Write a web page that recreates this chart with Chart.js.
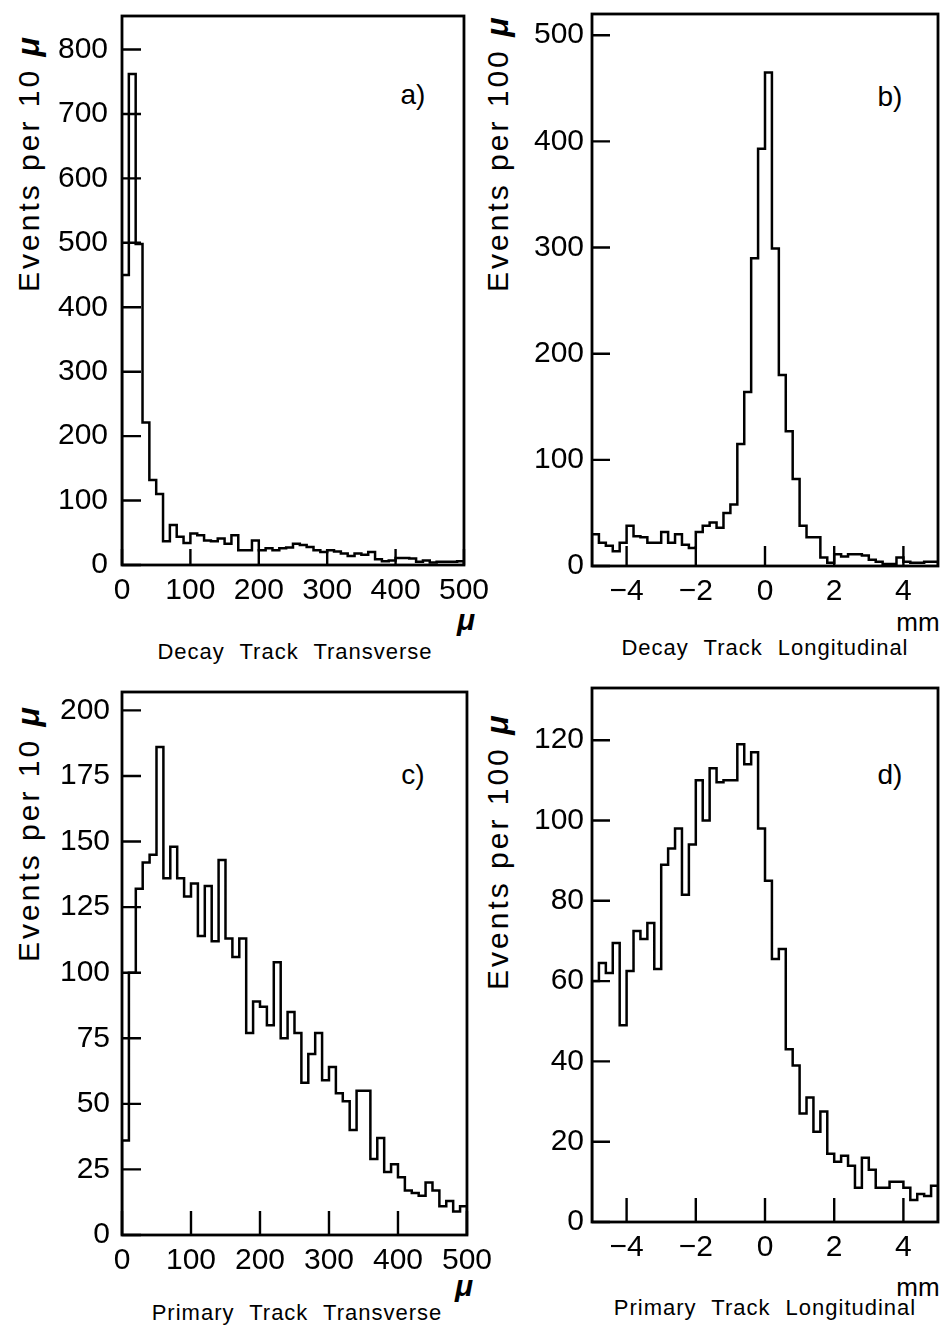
<!DOCTYPE html>
<html>
<head>
<meta charset="utf-8">
<script src="https://cdn.jsdelivr.net/npm/chart.js@4.4.0/dist/chart.umd.min.js"></script>
<style>
  html, body { margin: 0; padding: 0; background: #fff; }
  body { width: 943px; height: 1330px; position: relative; overflow: hidden;
         font-family: "Liberation Sans", Arial, sans-serif; color: #000; }
  canvas { position: absolute; }
  .t { position: absolute; white-space: nowrap; transform: translate(-50%, -50%); }
  .yt { position: absolute; white-space: nowrap; transform-origin: 0 0; transform: rotate(-90deg);
        font-size: 30px; line-height: 34px; letter-spacing: 3px; }
  .xt { font-size: 22px; letter-spacing: 1px; word-spacing: 8px; }
  .mu { font-weight: bold; font-style: italic; font-size: 32px; }
  .unit { font-size: 30px; font-weight: bold; font-style: italic; }
  .mm { font-size: 26px; }
  .lab { font-size: 28px; }
</style>
</head>
<body>

<div class="yt" style="left:11px; top:292px;">Events per 10 <span class="mu">μ</span></div>
<div class="yt" style="left:480px; top:292px;">Events per 100 <span class="mu">μ</span></div>
<div class="yt" style="left:11px; top:962px;">Events per 10 <span class="mu">μ</span></div>
<div class="yt" style="left:480px; top:990px;">Events per 100 <span class="mu">μ</span></div>

<div class="t xt" style="left:295px; top:652px;">Decay Track Transverse</div>
<div class="t unit" style="left:466px; top:620px;">μ</div>
<div class="t mm" style="left:918px; top:622px;">mm</div>
<div class="t xt" style="left:765px; top:648px;">Decay Track Longitudinal</div>
<div class="t xt" style="left:297px; top:1313px;">Primary Track Transverse</div>
<div class="t unit" style="left:464px; top:1286px;">μ</div>
<div class="t mm" style="left:918px; top:1287px;">mm</div>
<div class="t xt" style="left:765px; top:1308px;">Primary Track Longitudinal</div>

<div class="t lab" style="left:413px; top:95px;">a)</div>
<div class="t lab" style="left:890px; top:97px;">b)</div>
<div class="t lab" style="left:413px; top:775px;">c)</div>
<div class="t lab" style="left:890px; top:775px;">d)</div>

<canvas id="cA"></canvas>
<canvas id="cB"></canvas>
<canvas id="cC"></canvas>
<canvas id="cD"></canvas>

<script>
// bin contents, 50 bins each
// transverse: 10 micron bins from 0 to 500
const decayTransverse = [450, 762, 498, 221, 132, 110, 37, 62, 44, 34,
                         49, 46, 38, 37, 41, 33, 46, 23, 23, 38,
                         23, 26, 23, 26, 27, 33, 31, 28, 23, 20,
                         23, 21, 18, 14, 18, 16, 20, 9, 6, 7,
                         11, 11, 10, 5, 7, 4, 5, 5, 5, 6];
const primaryTransverse = [36, 100, 132, 142, 145, 186, 136, 148, 136, 129,
                           134, 114, 133, 112, 143, 113, 106, 113, 77, 89,
                           87, 80, 104, 75, 85, 77, 58, 69, 77, 59,
                           64, 54, 51, 40, 55, 55, 29, 37, 24, 27,
                           22, 17, 16, 15, 20, 17, 11, 13, 9, 11];
// longitudinal: 0.2 mm bins from -5 to 5
const decayLongitudinal = [30, 22, 19, 14, 22, 38, 28, 27, 22, 22,
                           32, 22, 30, 20, 17, 32, 38, 41, 36, 50,
                           58, 115, 164, 290, 393, 465, 299, 180, 127, 82,
                           38, 27, 27, 8, 3, 11, 9, 11, 11, 10,
                           6, 4, 2, 2, 8, 4, 3, 3, 4, 4];
const primaryLongitudinal = [60, 64.5, 62, 69.5, 49, 62.5, 72.5, 70.5, 74.5, 63,
                             89, 93, 98, 81.5, 94, 110, 100, 113, 109.5, 110,
                             110, 119, 114, 117, 98, 85, 65.5, 68, 43, 39,
                             27, 31, 22.5, 27.5, 17, 15, 16.5, 14, 8.5, 16,
                             13, 8.5, 8.5, 10, 10, 8.5, 5.5, 7, 6.5, 9];

// axis ticks
const transTicks = [0, 100, 200, 300, 400, 500];
const longTicks = [-4, -2, 0, 2, 4];
const yTicksA = [0, 100, 200, 300, 400, 500, 600, 700, 800];
const yTicksB = [0, 100, 200, 300, 400, 500];
const yTicksC = [0, 25, 50, 75, 100, 125, 150, 175, 200];
const yTicksD = [0, 20, 40, 60, 80, 100, 120];

const INK = '#000';
const TICK_FONT = { family: '"Liberation Sans", Arial, sans-serif', size: 30 };
const Y_AXIS_W = 115, X_AXIS_H = 45, PAD_T = 30, PAD_R = 30;

// box frame plus inward tick marks
const framePlugin = {
    id: 'frame',
    afterDatasetsDraw(chart, args, opts) {
        const { ctx, chartArea: a, scales: { x, y } } = chart;
        ctx.save();
        ctx.strokeStyle = INK;
        ctx.lineWidth = opts.lineWidth;
        ctx.beginPath();
        y.ticks.forEach(t => {
            const py = y.getPixelForValue(t.value);
            ctx.moveTo(a.left, py);
            ctx.lineTo(a.left + opts.yTick, py);
        });
        x.ticks.forEach(t => {
            const px = x.getPixelForValue(t.value);
            ctx.moveTo(px, a.bottom);
            ctx.lineTo(px, a.bottom - opts.xTick);
        });
        ctx.stroke();
        ctx.lineWidth = opts.frameWidth;
        ctx.strokeRect(a.left, a.top, a.right - a.left, a.bottom - a.top);
        ctx.restore();
    }
};

// step outline from bin edges
function histPoints(vals, lo, hi) {
    const w = (hi - lo) / vals.length;
    const pts = [{ x: lo, y: 0 }];
    vals.forEach((v, i) => pts.push({ x: lo + i * w, y: v }));
    pts.push({ x: hi, y: vals[vals.length - 1] });
    pts.push({ x: hi, y: 0 });
    return pts;
}

const minusFmt = v => (v < 0 ? '\u2212' + Math.abs(v) : String(v));

function makePanel(canvasId, p) {
    const canvas = document.getElementById(canvasId);
    const w = (p.rect.r - p.rect.l) + Y_AXIS_W + PAD_R;
    const h = (p.rect.b - p.rect.t) + PAD_T + X_AXIS_H;
    canvas.width = w;
    canvas.height = h;
    canvas.style.width = w + 'px';
    canvas.style.height = h + 'px';
    canvas.style.left = (p.rect.l - Y_AXIS_W) + 'px';
    canvas.style.top = (p.rect.t - PAD_T) + 'px';

    return new Chart(canvas.getContext('2d'), {
        type: 'line',
        data: {
            datasets: [{
                data: histPoints(p.values, p.lo, p.hi),
                stepped: 'before',
                borderColor: INK,
                borderWidth: 2.5,
                pointRadius: 0,
                fill: false
            }]
        },
        options: {
            responsive: false,
            animation: false,
            events: [],
            layout: { padding: { top: PAD_T, right: PAD_R, left: 0, bottom: 0 } },
            plugins: {
                legend: { display: false },
                tooltip: { enabled: false },
                frame: { lineWidth: 2.4, frameWidth: 2.8, yTick: p.yTick, xTick: p.xTick }
            },
            scales: {
                x: {
                    type: 'linear',
                    min: p.lo,
                    max: p.hi,
                    grid: { display: false, drawTicks: false },
                    border: { display: false },
                    afterBuildTicks: s => { s.ticks = p.xTicks.map(v => ({ value: v })); },
                    afterFit: s => { s.height = X_AXIS_H; },
                    ticks: { font: TICK_FONT, color: INK, padding: 8, maxRotation: 0, autoSkip: false, callback: minusFmt }
                },
                y: {
                    type: 'linear',
                    min: 0,
                    max: p.yMax,
                    grid: { display: false, drawTicks: false },
                    border: { display: false },
                    afterBuildTicks: s => { s.ticks = p.yTicks.map(v => ({ value: v })); },
                    afterFit: s => { s.width = Y_AXIS_W; },
                    ticks: { font: TICK_FONT, color: INK, padding: p.yPad, autoSkip: false }
                }
            }
        },
        plugins: [framePlugin]
    });
}

makePanel('cA', { values: decayTransverse, lo: 0, hi: 500, xTicks: transTicks, yTicks: yTicksA, yMax: 852,
                  rect: { l: 122, t: 14, r: 467, b: 565 }, yTick: 19, xTick: 16, yPad: 14 });
makePanel('cB', { values: decayLongitudinal, lo: -5, hi: 5, xTicks: longTicks, yTicks: yTicksB, yMax: 520,
                  rect: { l: 592, t: 14, r: 938, b: 566 }, yTick: 18, xTick: 20, yPad: 8 });
makePanel('cC', { values: primaryTransverse, lo: 0, hi: 500, xTicks: transTicks, yTicks: yTicksC, yMax: 207,
                  rect: { l: 122, t: 692, r: 470, b: 1235 }, yTick: 19, xTick: 24, yPad: 12 });
makePanel('cD', { values: primaryLongitudinal, lo: -5, hi: 5, xTicks: longTicks, yTicks: yTicksD, yMax: 133,
                  rect: { l: 592, t: 688, r: 938, b: 1222 }, yTick: 18, xTick: 24, yPad: 8 });
</script>
</body>
</html>
